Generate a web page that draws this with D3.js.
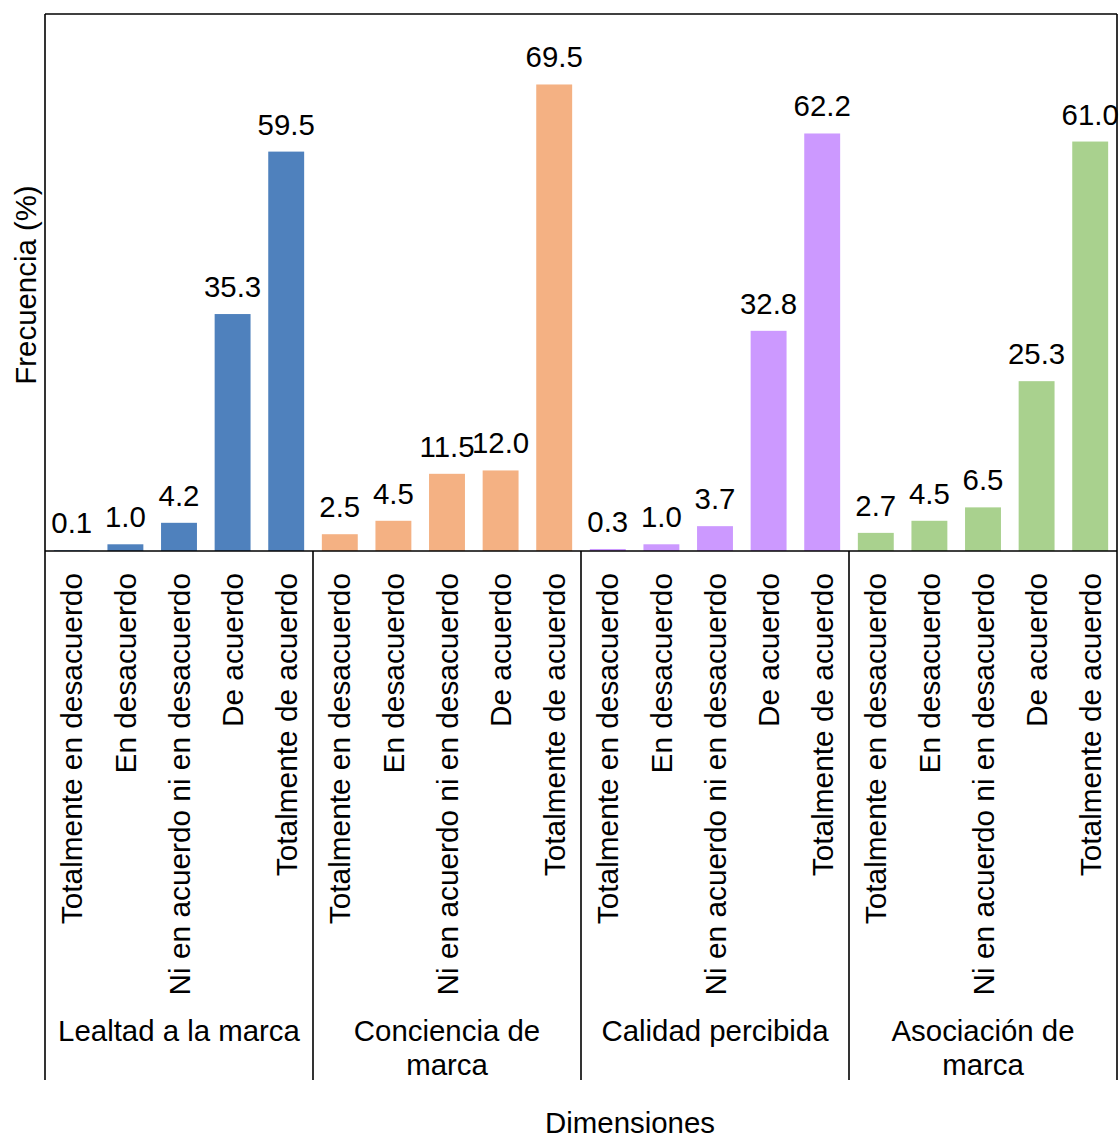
<!DOCTYPE html>
<html>
<head>
<meta charset="utf-8">
<script src="https://cdn.jsdelivr.net/npm/d3@7"></script>
<style>
  html, body { margin: 0; padding: 0; background: #fff; }
  svg { display: block; font-family: "Liberation Sans", Arial, sans-serif; }
</style>
</head>
<body>
<svg id="chart" width="1119" height="1138"></svg>
<script>
// ---- data ----
const groups = ["Lealtad a la marca", "Conciencia de marca", "Calidad percibida", "Asociación de marca"];
const groupLabelLines = [["Lealtad a la marca"], ["Conciencia de", "marca"], ["Calidad percibida"], ["Asociación de", "marca"]];
const levels = ["Totalmente en desacuerdo", "En desacuerdo", "Ni en acuerdo ni en desacuerdo", "De acuerdo", "Totalmente de acuerdo"];
const lealtad = [0.1, 1.0, 4.2, 35.3, 59.5];
const conciencia = [2.5, 4.5, 11.5, 12.0, 69.5];
const calidad = [0.3, 1.0, 3.7, 32.8, 62.2];
const asociacion = [2.7, 4.5, 6.5, 25.3, 61.0];
const groupColors = ["#4F81BD", "#F4B183", "#CC99FF", "#A9D18E"];
const yTitle = "Frecuencia (%)";
const xTitle = "Dimensiones";

(function () {
const series = [lealtad, conciencia, calidad, asociacion];
const rows = [];
groups.forEach((g, gi) => levels.forEach((l, li) => rows.push({ key: gi + "|" + li, group: g, gi, level: l, value: series[gi][li] })));

// ---- layout ----
const pL = 45, pR = 1117, pT = 14, pBase = 551, pBottom = 1080;
const fs = 29.4, fsCat = 29.8;
const svg = d3.select("#chart");

const x = d3.scaleBand().domain(rows.map(d => d.key)).range([pL, pR]).paddingInner(0.33).paddingOuter(0.165);
const y = d3.scaleLinear().domain([0, 80]).range([pBase, pT]);
const gx = d3.scaleBand().domain(groups).range([pL, pR]);
const color = d3.scaleOrdinal().domain(groups).range(groupColors);

// bars
svg.append("g").selectAll("rect").data(rows).join("rect")
  .attr("x", d => x(d.key))
  .attr("width", x.bandwidth())
  .attr("y", d => y(d.value))
  .attr("height", d => y(0) - y(d.value))
  .attr("fill", d => color(d.group));

// value labels
svg.append("g").selectAll("text").data(rows).join("text")
  .attr("x", d => x(d.key) + x.bandwidth() / 2)
  .attr("y", d => y(d.value) - 17)
  .attr("text-anchor", "middle")
  .attr("font-size", fs)
  .attr("fill", "#000")
  .text(d => d.value.toFixed(1));

// category labels (rotated)
svg.append("g").selectAll("text").data(rows).join("text")
  .attr("transform", d => `translate(${x(d.key) + x.bandwidth() / 2 + 10.5},${pBase + 22}) rotate(-90)`)
  .attr("text-anchor", "end")
  .attr("font-size", fsCat)
  .attr("fill", "#000")
  .text(d => d.level);

// frame lines
const lines = svg.append("g").attr("stroke", "#000").attr("stroke-width", 1.6).attr("fill", "none");
lines.append("line").attr("x1", pL).attr("x2", pR).attr("y1", pT).attr("y2", pT);
lines.append("line").attr("x1", pL).attr("x2", pR).attr("y1", y(0)).attr("y2", y(0));
lines.append("line").attr("x1", pL).attr("x2", pL).attr("y1", pT).attr("y2", pBottom);
lines.append("line").attr("x1", pR).attr("x2", pR).attr("y1", pT).attr("y2", pBottom);
lines.selectAll("line.sep").data(groups.slice(1)).join("line").attr("class", "sep")
  .attr("x1", d => gx(d)).attr("x2", d => gx(d)).attr("y1", y(0)).attr("y2", pBottom);

// group labels
const gl = svg.append("g").selectAll("text").data(groups).join("text")
  .attr("x", d => gx(d) + gx.bandwidth() / 2)
  .attr("y", 1041)
  .attr("text-anchor", "middle")
  .attr("font-size", fs)
  .attr("fill", "#000");
gl.each(function (d, i) {
  d3.select(this).selectAll("tspan").data(groupLabelLines[i]).join("tspan")
    .attr("x", gx(d) + gx.bandwidth() / 2)
    .attr("dy", (t, j) => j === 0 ? 0 : 34)
    .text(t => t);
});

// axis titles
svg.append("text")
  .attr("transform", `translate(36,285) rotate(-90)`)
  .attr("text-anchor", "middle")
  .attr("font-size", fs)
  .attr("fill", "#000")
  .text(yTitle);

svg.append("text")
  .attr("x", 630)
  .attr("y", 1133)
  .attr("text-anchor", "middle")
  .attr("font-size", fs)
  .attr("fill", "#000")
  .text(xTitle);
})();
</script>
</body>
</html>
